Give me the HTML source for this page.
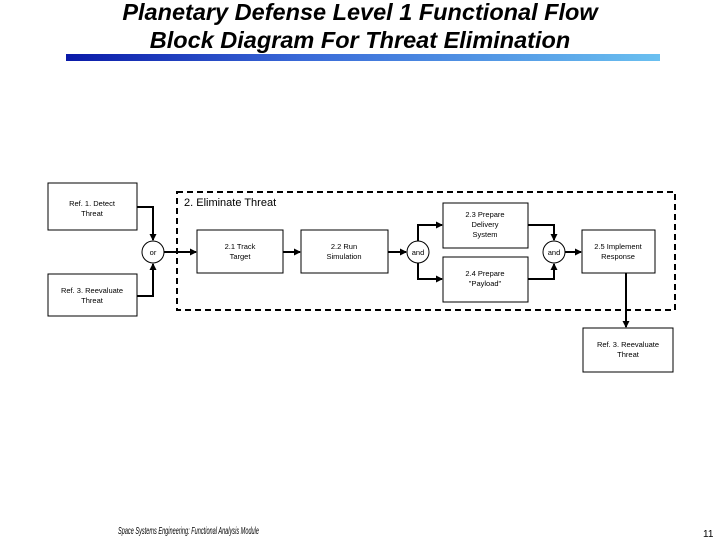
<!DOCTYPE html>
<html><head><meta charset="utf-8"><style>
body{margin:0;width:720px;height:540px;background:#fff;overflow:hidden;position:relative;font-family:"Liberation Sans",sans-serif}
.t{position:absolute;left:0;width:720px;text-align:center;font-weight:bold;font-style:italic;font-size:23.5px;color:#000}
</style></head><body>
<div class="t" style="top:-1px">Planetary Defense Level 1 Functional Flow</div>
<div class="t" style="top:27px">Block Diagram For Threat Elimination</div>
<div style="position:absolute;left:66px;top:54px;width:594px;height:7px;background:linear-gradient(to right,#0a1aa8,#3a6ad8 40%,#6ac0f0)"></div>
<svg width="720" height="540" style="position:absolute;left:0;top:0" font-family="Liberation Sans, sans-serif">
<defs><marker id="a" markerWidth="7" markerHeight="7" refX="6" refY="3.5" orient="auto" markerUnits="userSpaceOnUse"><path d="M0,0 L7,3.5 L0,7z" fill="#000"/></marker></defs>
<rect x="177" y="192" width="498" height="118" fill="none" stroke="#000" stroke-width="2" stroke-dasharray="6,4"/>
<text x="184" y="206" font-size="11">2. Eliminate Threat</text>
<g fill="#fff" stroke="#000" stroke-width="1">
<rect x="48" y="183" width="89" height="47"/>
<rect x="48" y="274" width="89" height="42"/>
<rect x="197" y="230" width="86" height="43"/>
<rect x="301" y="230" width="87" height="43"/>
<rect x="443" y="203" width="85" height="45"/>
<rect x="443" y="257" width="85" height="45"/>
<rect x="582" y="230" width="73" height="43"/>
<rect x="583" y="328" width="90" height="44"/>
<circle cx="153" cy="252" r="11"/>
<circle cx="418" cy="252" r="11"/>
<circle cx="554" cy="252" r="11"/>
</g>
<g fill="none" stroke="#000" stroke-width="2">
<path d="M137,207 H153 V240" marker-end="url(#a)"/>
<path d="M137,296 H153 V264" marker-end="url(#a)"/>
<path d="M164,252 H196" marker-end="url(#a)"/>
<path d="M283,252 H300" marker-end="url(#a)"/>
<path d="M388,252 H406" marker-end="url(#a)"/>
<path d="M418,241 V225 H442" marker-end="url(#a)"/>
<path d="M418,263 V279 H442" marker-end="url(#a)"/>
<path d="M528,225 H554 V240" marker-end="url(#a)"/>
<path d="M528,279 H554 V264" marker-end="url(#a)"/>
<path d="M565,252 H581" marker-end="url(#a)"/>
<path d="M626,273 V327" marker-end="url(#a)"/>
</g>
<g font-size="7.5" text-anchor="middle" fill="#000">
<text x="92" y="206">Ref. 1. Detect</text><text x="92" y="216">Threat</text>
<text x="92" y="293">Ref. 3. Reevaluate</text><text x="92" y="303">Threat</text>
<text x="153" y="255">or</text><text x="418" y="255">and</text><text x="554" y="255">and</text>
<text x="240" y="249">2.1 Track</text><text x="240" y="259">Target</text>
<text x="344" y="249">2.2 Run</text><text x="344" y="259">Simulation</text>
<text x="485" y="217">2.3 Prepare</text><text x="485" y="227">Delivery</text><text x="485" y="237">System</text>
<text x="485" y="276">2.4 Prepare</text><text x="485" y="286">"Payload"</text>
<text x="618" y="249">2.5 Implement</text><text x="618" y="259">Response</text>
<text x="628" y="347">Ref. 3. Reevaluate</text><text x="628" y="357">Threat</text>
</g>
<text x="118" y="534" font-size="10" font-style="italic" textLength="141" lengthAdjust="spacingAndGlyphs">Space Systems Engineering: Functional Analysis Module</text>
<text x="703" y="537" font-size="10">11</text>
</svg>
</body></html>
